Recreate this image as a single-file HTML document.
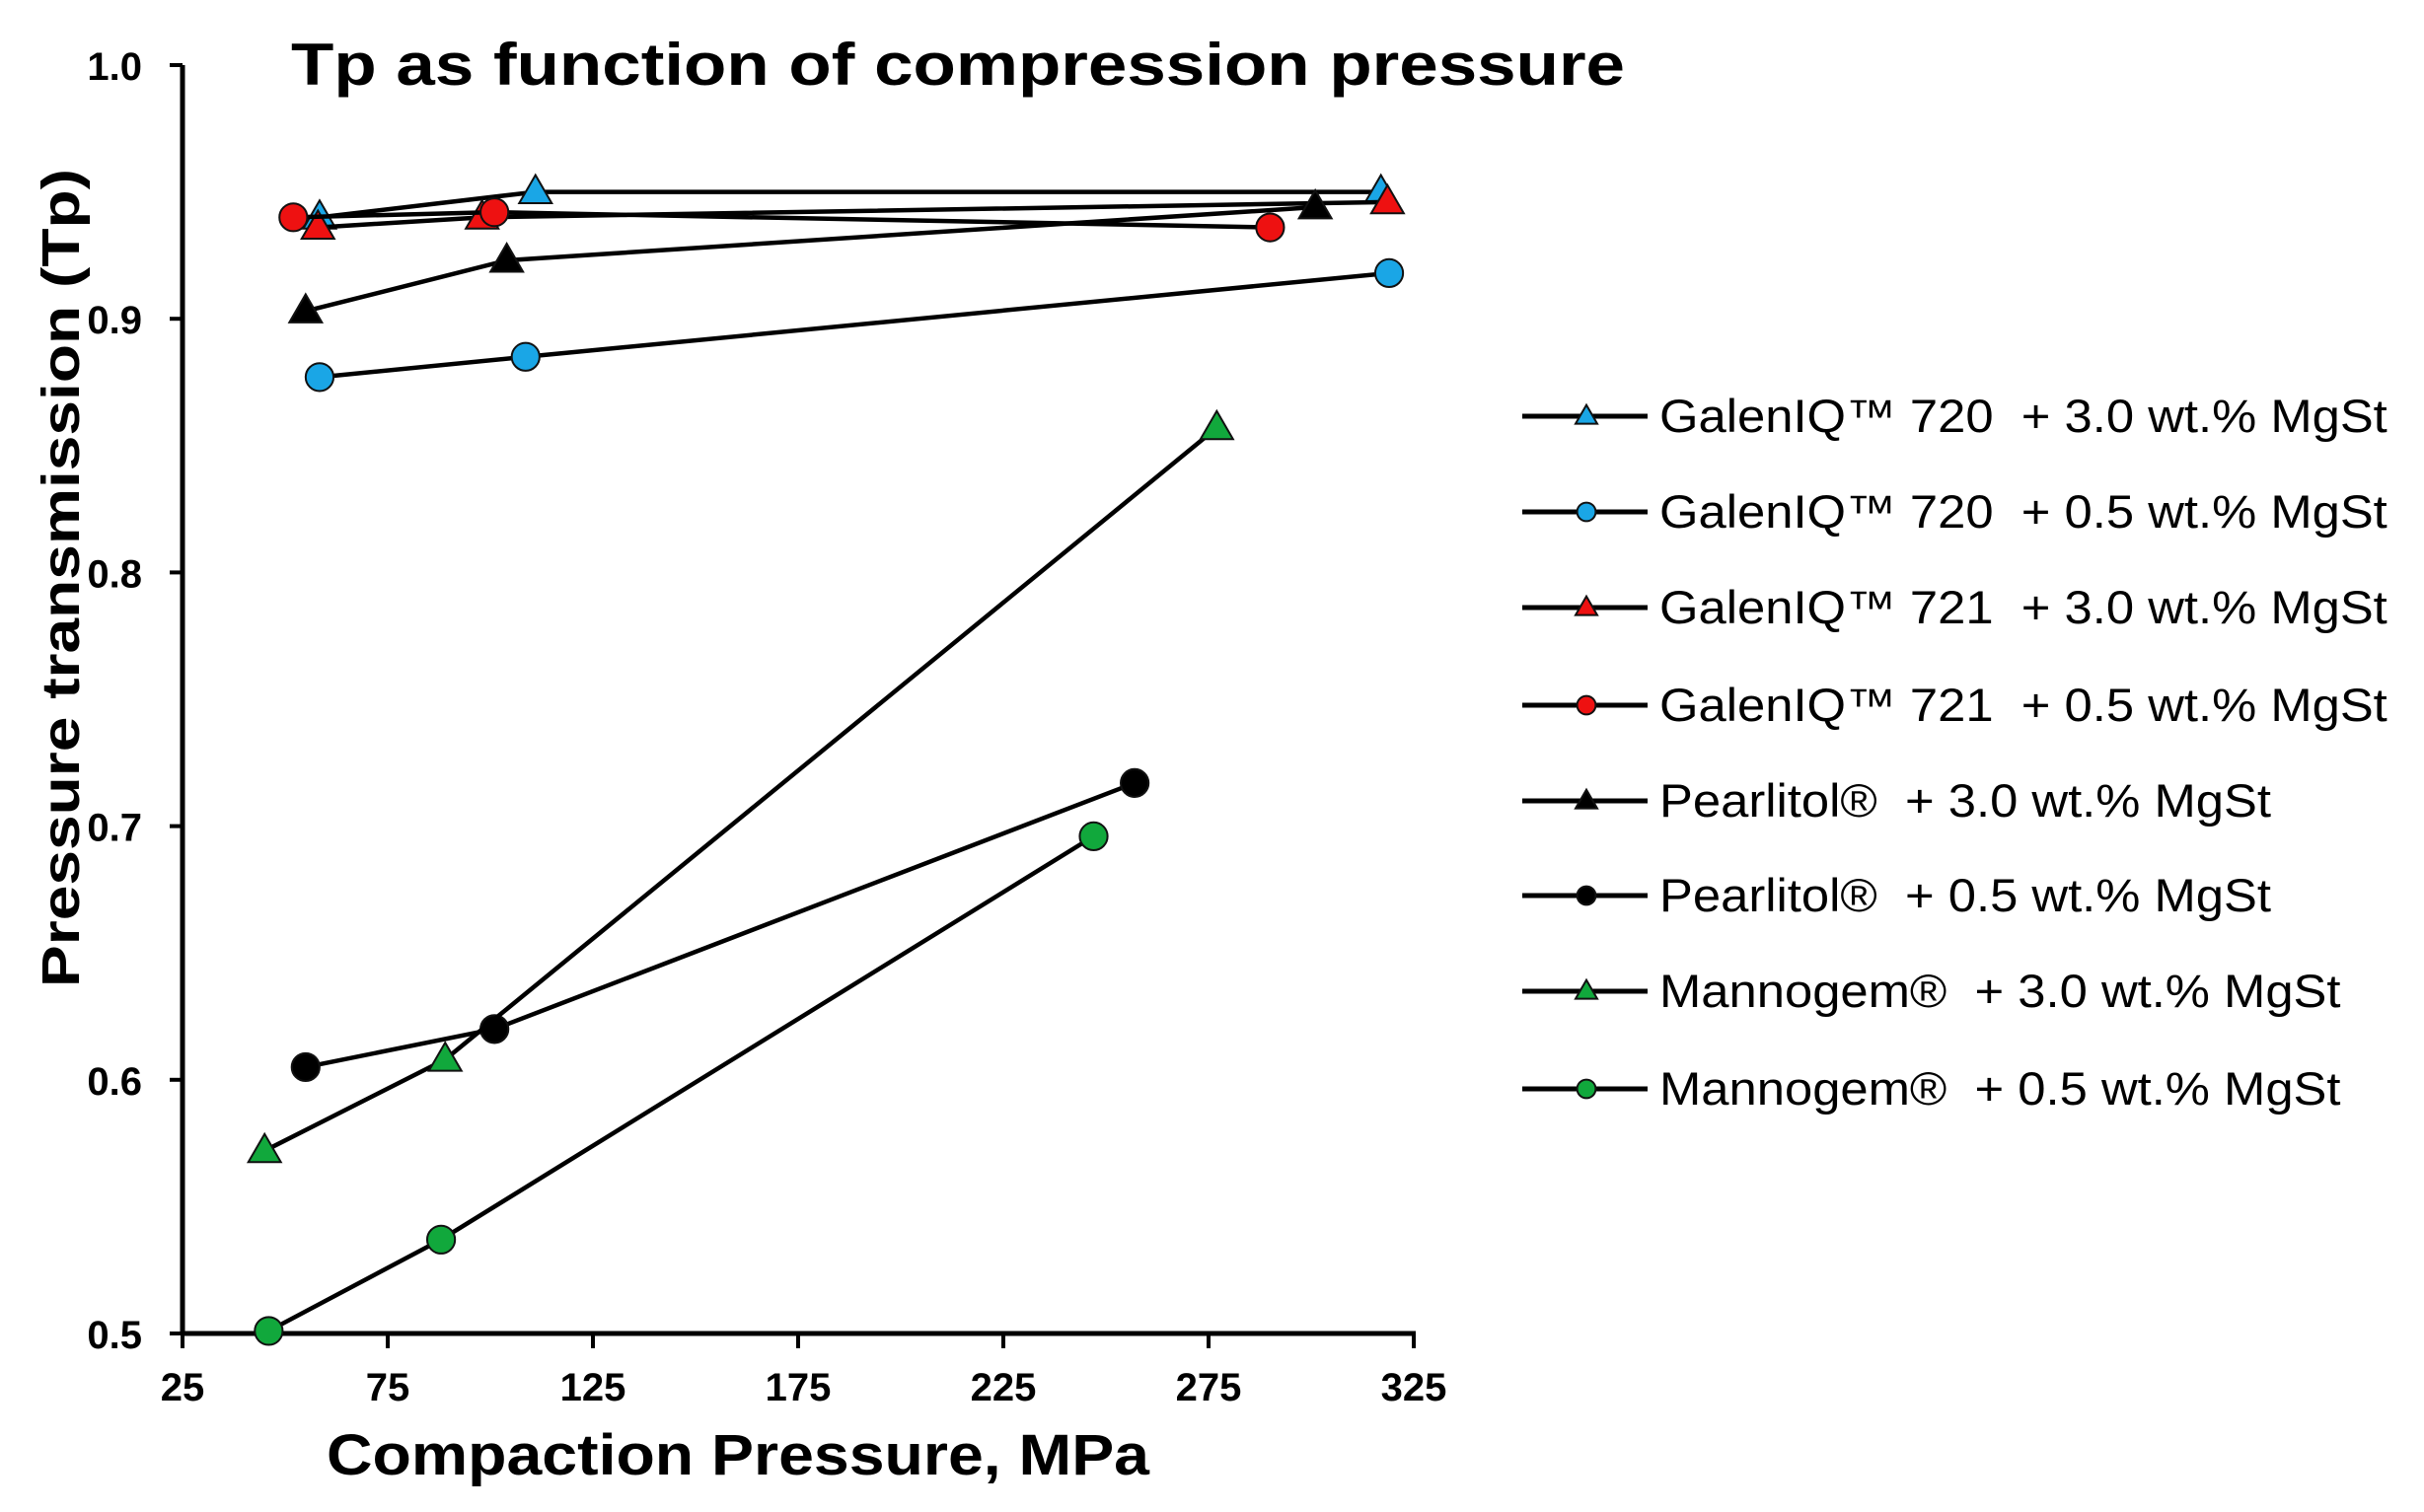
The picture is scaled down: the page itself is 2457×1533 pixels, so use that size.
<!DOCTYPE html>
<html><head><meta charset="utf-8"><style>
html,body{margin:0;padding:0;background:#fff}
svg{display:block}
text{font-family:"Liberation Sans",Arial,sans-serif}
</style></head><body>
<svg id="chart" width="2457" height="1533" viewBox="0 0 2457 1533" xmlns="http://www.w3.org/2000/svg">
<text x="295" y="86" font-size="60" font-weight="bold" textLength="1352" lengthAdjust="spacingAndGlyphs">Tp as function of compression pressure</text>
<text transform="translate(80,586) rotate(-90)" text-anchor="middle" font-size="54" font-weight="bold" textLength="830" lengthAdjust="spacingAndGlyphs">Pressure transmission (Tp)</text>
<text x="748" y="1495" text-anchor="middle" font-size="58" font-weight="bold" textLength="834" lengthAdjust="spacingAndGlyphs">Compaction Pressure, MPa</text>
<g id="axes"></g>
<g id="series"></g>
<g id="legend"></g>
</svg>
<script>
const xTicks = [25, 75, 125, 175, 225, 275, 325];
const yTicks = [0.5, 0.6, 0.7, 0.8, 0.9, 1.0];
const seriesNames = ["GalenIQ\u2122 720  + 3.0 wt.% MgSt","GalenIQ\u2122 720  + 0.5 wt.% MgSt","GalenIQ\u2122 721  + 3.0 wt.% MgSt","GalenIQ\u2122 721  + 0.5 wt.% MgSt","Pearlitol\u00ae  + 3.0 wt.% MgSt","Pearlitol\u00ae  + 0.5 wt.% MgSt","Mannogem\u00ae  + 3.0 wt.% MgSt","Mannogem\u00ae  + 0.5 wt.% MgSt"];
const seriesColors = ["#1aa6e6","#1aa6e6","#ee1111","#ee1111","#000000","#000000","#11a83c","#11a83c"];
const seriesMarkers = ["tri","circ","tri","circ","tri","circ","tri","circ"];
const g720_30_x = [58.4, 111, 317];   const g720_30_y = [0.940, 0.950, 0.950];
const g720_05_x = [58.4, 108.6, 319]; const g720_05_y = [0.877, 0.885, 0.918];
const g721_30_x = [58, 98, 318.6];    const g721_30_y = [0.936, 0.940, 0.946];
const g721_05_x = [52, 101, 290];     const g721_05_y = [0.940, 0.942, 0.936];
const pear_30_x = [55, 104, 301];     const pear_30_y = [0.903, 0.923, 0.944];
const pear_05_x = [55, 101, 257];     const pear_05_y = [0.605, 0.620, 0.717];
const mann_30_x = [45, 89, 277];      const mann_30_y = [0.572, 0.608, 0.857];
const mann_05_x = [46, 88, 247];      const mann_05_y = [0.501, 0.537, 0.696];
const seriesX = [g720_30_x,g720_05_x,g721_30_x,g721_05_x,pear_30_x,pear_05_x,mann_30_x,mann_05_x];
const seriesY = [g720_30_y,g720_05_y,g721_30_y,g721_05_y,pear_30_y,pear_05_y,mann_30_y,mann_05_y];

const NS="http://www.w3.org/2000/svg";
const X0=185,X1=1433,Y0=1352,Y1=66;
function sx(v){return X0+(v-25)/300*(X1-X0);}
function sy(v){return Y0-(v-0.5)/0.5*(Y0-Y1);}
function mk(tag,attrs,parent){const e=document.createElementNS(NS,tag);for(const k in attrs)e.setAttribute(k,attrs[k]);parent.appendChild(e);return e;}
const axes=document.getElementById('axes');
let e=mk('line',{x1:X0,y1:Y1,x2:X0,y2:Y0,stroke:'#000','stroke-width':5},axes);


e=mk('line',{x1:X0-2,y1:Y0,x2:X1+2,y2:Y0,stroke:'#000','stroke-width':5},axes);


yTicks.forEach(t=>{
  const y=sy(t);
  let l=mk('line',{x1:X0-13,y1:y,x2:X0,y2:y,stroke:'#000','stroke-width':4},axes);
  
  
  let tx=mk('text',{x:144,y:y+15,'text-anchor':'end','font-size':40,'font-weight':'bold'},axes);
  tx.textContent=t.toFixed(1);
  
  
});
xTicks.forEach(t=>{
  const x=sx(t);
  let l=mk('line',{x1:x,y1:Y0,x2:x,y2:Y0+15,stroke:'#000','stroke-width':4},axes);
  
  
  let tx=mk('text',{x:x,y:1420,'text-anchor':'middle','font-size':40,'font-weight':'bold'},axes);
  tx.textContent=t;
  
  
});
function marker(type,x,y,color,size,parent){
  let m;
  if(type==='circ') m=mk('circle',{cx:x,cy:y,r:size*0.47,fill:color,stroke:'#111','stroke-width':2},parent);
  else { const h=size*0.95,w=size*1.1; m=mk('polygon',{points:`${x},${y-h*0.6} ${x+w/2},${y+h*0.4} ${x-w/2},${y+h*0.4}`,fill:color,stroke:'#111','stroke-width':2},parent);}
  return m;
}
const sg=document.getElementById('series');
seriesX.forEach((xs,i)=>{
  const ys=seriesY[i];
  const g=mk('g',{},sg);
  
  
  const pts=xs.map((v,j)=>sx(v)+','+sy(ys[j])).join(' ');
  const pl=mk('polyline',{points:pts,fill:'none',stroke:'#000','stroke-width':4.5},g);
  
  
  xs.forEach((v,j)=>{
    const m=marker(seriesMarkers[i],sx(v),sy(ys[j]),seriesColors[i],30,g);
    
    
  });
});
const lg=document.getElementById('legend');
const legY=[422,519,616,715,812,908,1005,1104];
seriesNames.forEach((n,i)=>{
  const g=mk('g',{},lg);
  
  
  const y=legY[i];
  mk('line',{x1:1543,y1:y,x2:1670,y2:y,stroke:'#000','stroke-width':5},g);
  marker(seriesMarkers[i],1608,y,seriesColors[i],20,g);
  const t=mk('text',{x:1682,y:y+16,'font-size':47,'xml:space':'preserve'},g);
  t.setAttribute('style','white-space:pre');
  t.textContent=n;
  const w=t.getComputedTextLength();
  t.setAttribute('textLength',(w*1.08).toFixed(1));
  t.setAttribute('lengthAdjust','spacingAndGlyphs');
});
</script>
</body></html>
